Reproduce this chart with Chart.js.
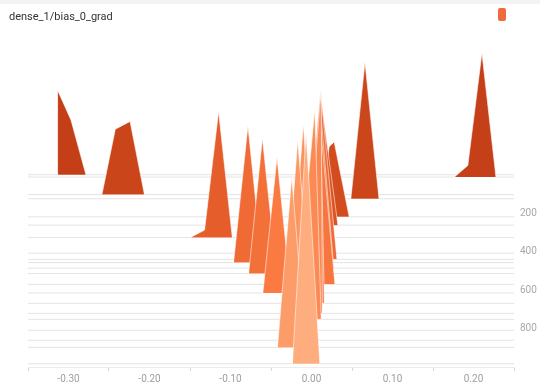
<!DOCTYPE html>
<html>
<head>
<meta charset="utf-8">
<script src="https://cdn.jsdelivr.net/npm/chart.js@4.4.0/dist/chart.umd.min.js"></script>
<style>
  body { margin: 0; background: #fff; }
  .wrap { position: relative; width: 540px; height: 382px; overflow: hidden; }
  .topbar { position: absolute; left: 0; top: 0; width: 540px; height: 4px; background: #f3f3f3; }
  .title { position: absolute; left: 9px; top: 10px; font: 11px Roboto, sans-serif; color: #333; }
  .swatch { position: absolute; left: 498px; top: 8px; width: 8px; height: 13px; border-radius: 2px; background: #ef6a3f; }
  canvas { position: absolute; left: 0; top: 0; }
</style>
</head>
<body>
<div class="wrap">
  <div class="topbar"></div>
  <canvas id="histChart" width="540" height="382"></canvas>
  <div class="title">dense_1/bias_0_grad</div>
  <div class="swatch"></div>
</div>
<script>
// training steps, one histogram each (offset view)
const steps = [0, 12, 103, 125, 219, 262, 326, 408, 440, 457, 486, 514, 570, 615, 669, 721, 752, 809, 861, 898, 983];

// bin positions (gradient value) of each histogram's shape
const binX = [
  [-0.3138, -0.3135, -0.297, -0.2785],
  [0.1765, 0.193, 0.2104, 0.2277],
  [-0.2587, -0.2422, -0.224, -0.2063],
  [0.0486, 0.066, 0.0833],
  [0.010, 0.0218, 0.028, 0.0465],
  [-0.007, 0.0119, 0.0326],
  [-0.1494, -0.132, -0.1147, -0.0978],
  [-0.008, 0.0104, 0.030],
  [-0.007, 0.0129, 0.0314],
  [-0.0962, -0.0785, -0.061],
  [-0.0057, 0.0116, 0.0276],
  [-0.0776, -0.0606, -0.043],
  [-0.0045, 0.0104, 0.0289],
  [-0.06, -0.0426, -0.0256],
  [-0.012, 0.0105, 0.016],
  [-0.010, 0.0119, 0.0135],
  [-0.02, 0.004, 0.012],
  [-0.03, -0.01, 0.006],
  [-0.036, -0.017, 0.002],
  [-0.042, -0.0244, -0.007],
  [-0.0235, -0.0067, 0.0103]
];

// counts at those bins
const binCount = [
  [0, 88, 57, 0],
  [0, 12, 129, 0],
  [0, 68, 76, 0],
  [0, 142, 0],
  [0, 73, 78, 0],
  [0, 130, 0],
  [0, 7.6, 131, 0],
  [0, 148, 0],
  [0, 160, 0],
  [0, 142, 0],
  [0, 160, 0],
  [0, 140.6, 0],
  [0, 170, 0],
  [0, 141, 0],
  [0, 216, 0],
  [0, 233, 0],
  [0, 218, 0],
  [0, 214, 0],
  [0, 208, 0],
  [0, 177, 0],
  [0, 240, 0]
];

const xRange = [-0.35, 0.25];
const xTicks = [-0.35, -0.30, -0.25, -0.20, -0.15, -0.10, -0.05, 0, 0.05, 0.10, 0.15, 0.20, 0.25];
const xTickLabels = ['', '-0.30', '', '-0.20', '', '-0.10', '', '0.00', '', '0.10', '', '0.20', ''];
const stepTicks = [200, 400, 600, 800];
const countScale = 5; // step units per count in the offset view

const colorStops = [
  [0, [196, 62, 24]],
  [220, [210, 76, 30]],
  [330, [230, 94, 42]],
  [620, [250, 122, 66]],
  [900, [252, 156, 104]],
  [1000, [253, 176, 130]]
];

function stepColor(step) {
  for (let i = 1; i < colorStops.length; i++) {
    const [s1, c1] = colorStops[i];
    const [s0, c0] = colorStops[i - 1];
    if (step <= s1) {
      const t = (step - s0) / (s1 - s0);
      const c = c0.map((v, k) => Math.round(v + (c1[k] - v) * t));
      return `rgb(${c[0]},${c[1]},${c[2]})`;
    }
  }
  return 'rgb(253,176,130)';
}

const datasets = steps.map((s, i) => {
  const pts = [{ x: xRange[0], y: s }];
  binX[i].forEach((x, j) => pts.push({ x: x, y: s - binCount[i][j] * countScale }));
  pts.push({ x: xRange[1], y: s });
  return {
    data: pts,
    showLine: true,
    pointRadius: 0,
    pointHoverRadius: 0,
    borderWidth: 1,
    tension: 0,
    backgroundColor: stepColor(s),
    fill: { value: s },
    borderColor: 'rgba(255,255,255,0.55)',
    segment: {
      borderColor: c => (c.p0.parsed.y === s && c.p1.parsed.y === s)
        ? 'rgba(0,0,0,0.11)' : 'rgba(255,255,255,0.55)'
    },
    order: -s
  };
});

const ctx = document.getElementById('histChart').getContext('2d');
new Chart(ctx, {
  type: 'scatter',
  data: { datasets: datasets },
  options: {
    responsive: false,
    animation: false,
    devicePixelRatio: 1,
    layout: { padding: { left: 28, top: 30, right: 0, bottom: 0 } },
    plugins: { legend: { display: false }, tooltip: { enabled: false } },
    scales: {
      x: {
        type: 'linear',
        min: xRange[0],
        max: xRange[1],
        afterBuildTicks: sc => { sc.ticks = xTicks.map(v => ({ value: v })); },
        afterFit: sc => { sc.height = 15; },
        ticks: {
          autoSkip: false,
          maxRotation: 0,
          padding: 2,
          color: '#9e9e9e',
          font: { family: 'Roboto', size: 10 },
          callback: (v, i) => xTickLabels[i]
        },
        grid: {
          drawOnChartArea: false,
          drawTicks: true,
          tickLength: 4,
          tickColor: c => xTickLabels[c.index] ? 'rgba(0,0,0,0)' : '#d6d6d6'
        },
        border: { color: '#ececec' }
      },
      y: {
        type: 'linear',
        position: 'right',
        reverse: true,
        min: -753,
        max: 1000,
        afterBuildTicks: sc => { sc.ticks = stepTicks.map(v => ({ value: v })); },
        afterFit: sc => { sc.width = 26; },
        ticks: {
          padding: 6,
          color: '#a8a8a8',
          font: { family: 'Roboto', size: 10 }
        },
        grid: { display: false, drawTicks: false, tickLength: 0 },
        border: { display: false }
      }
    }
  }
});
</script>
</body>
</html>
